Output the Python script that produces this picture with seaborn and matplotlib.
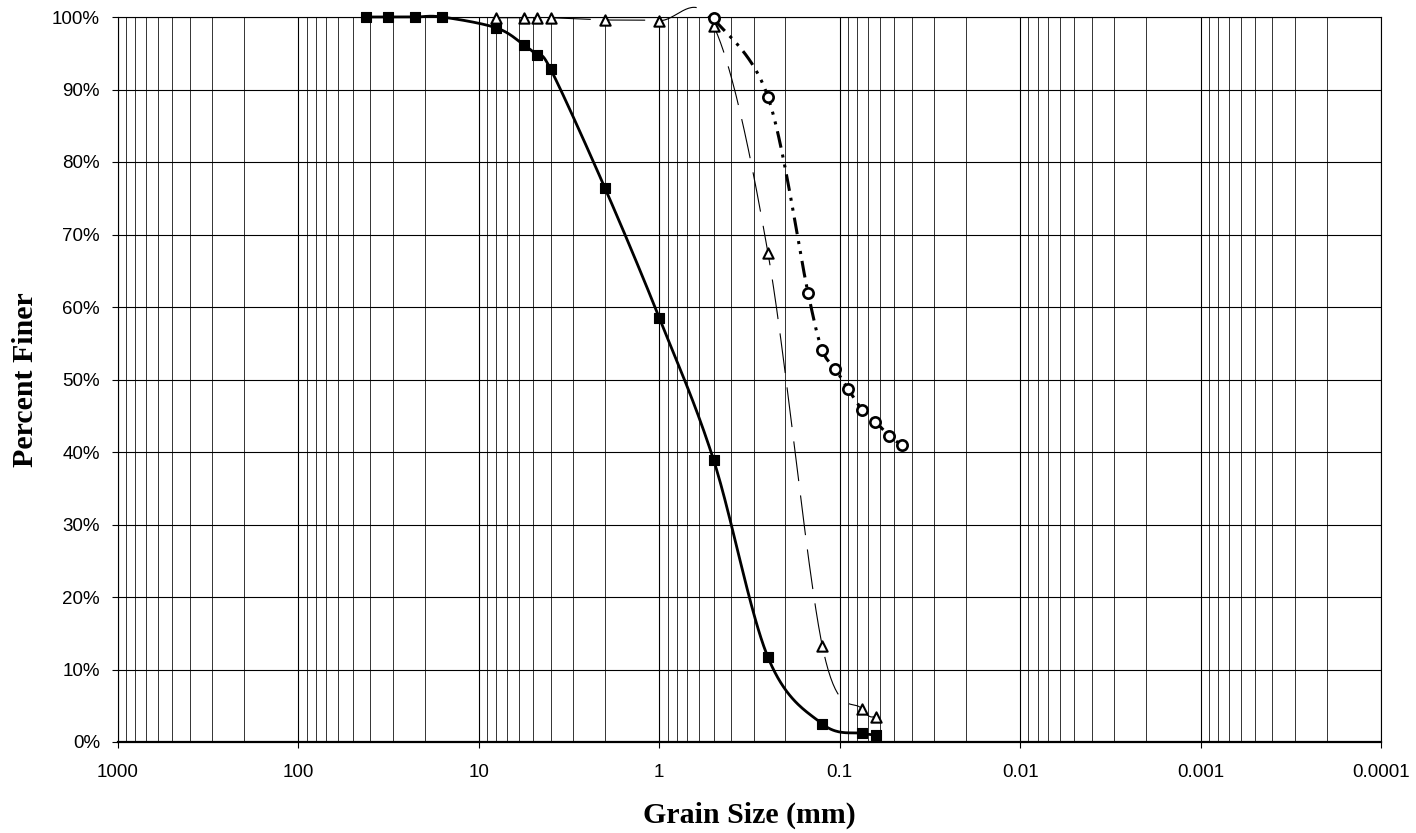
import numpy as np
import pandas as pd
import matplotlib
matplotlib.use("Agg")
import matplotlib.pyplot as plt
import matplotlib.ticker as mticker
import seaborn as sns

# ---- data ----
sq_size = [42, 32, 22.5, 16, 8, 5.6, 4.75, 4, 2, 1, 0.5, 0.25, 0.125, 0.075, 0.063]
sq_pct = [100, 100, 100, 100, 98.5, 96.1, 94.7, 92.8, 76.4, 58.5, 38.9, 11.7, 2.5, 1.2, 1.0]

tri_size = [8, 5.6, 4.75, 4, 2, 1, 0.5, 0.25, 0.125, 0.075, 0.063]
tri_pct = [99.9, 99.9, 99.9, 99.9, 99.6, 99.5, 98.8, 67.5, 13.3, 4.5, 3.5]

cir_size = [0.5, 0.25, 0.150, 0.125, 0.106, 0.090, 0.075, 0.0635, 0.053, 0.045]
cir_pct = [99.8, 89.0, 62.0, 54.1, 51.5, 48.7, 45.8, 44.2, 42.2, 40.9]

x_ticks = [1000, 100, 10, 1, 0.1, 0.01, 0.001, 0.0001]
x_labels = ["1000", "100", "10", "1", "0.1", "0.01", "0.001", "0.0001"]
y_ticks = list(range(0, 101, 10))
y_labels = [f"{v}%" for v in y_ticks]


def smooth(xs, ys, n=40):
    """Excel-like Bezier smoothing done in (log x, y) space."""
    lx = np.log10(np.asarray(xs, float))
    y = np.asarray(ys, float)
    P = np.column_stack([lx, y])
    out = []
    m = len(P)
    for i in range(m - 1):
        p0 = P[i - 1] if i > 0 else P[i]
        p1 = P[i]
        p2 = P[i + 1]
        p3 = P[i + 2] if i + 2 < m else P[i + 1]
        c1 = p1 + (p2 - p0) / 6.0
        c2 = p2 - (p3 - p1) / 6.0
        t = np.linspace(0, 1, n)[:, None]
        seg = ((1 - t) ** 3) * p1 + 3 * ((1 - t) ** 2) * t * c1 + 3 * (1 - t) * t ** 2 * c2 + t ** 3 * p2
        out.append(seg if i == 0 else seg[1:])
    S = np.vstack(out)
    return pd.DataFrame({"size": 10 ** S[:, 0], "pct": S[:, 1], "order": np.arange(len(S))})


sns.set_style("white")
plt.rcParams["font.family"] = ["Liberation Sans", "DejaVu Sans"]
plt.rcParams.update({"text.color": "black", "axes.labelcolor": "black",
                     "xtick.color": "black", "ytick.color": "black",
                     "axes.edgecolor": "black"})

fig = plt.figure(figsize=(14.16, 8.33), dpi=100)
ax = fig.add_axes([118 / 1416, 1 - 742 / 833, (1381 - 118) / 1416, (742 - 17) / 833])
ax.set_xscale("log")

# lines
sq_line = smooth(sq_size, sq_pct)
tri_line = smooth(tri_size, tri_pct)
cir_line = smooth(cir_size, cir_pct)

sns.lineplot(data=sq_line, x="size", y="pct", sort=False, estimator=None, ax=ax,
             color="black", lw=2.0, clip_on=False, zorder=3)
sns.lineplot(data=tri_line, x="size", y="pct", sort=False, estimator=None, ax=ax,
             color="black", lw=0.8, linestyle=(0, (36, 13)), clip_on=False, zorder=3)
sns.lineplot(data=cir_line, x="size", y="pct", sort=False, estimator=None, ax=ax,
             color="black", lw=2.2, linestyle=(0, (5.5, 2.3, 1, 2.3, 1, 2.3)), clip_on=False, zorder=3)

# markers
sq_df = pd.DataFrame({"size": sq_size, "pct": sq_pct})
tri_df = pd.DataFrame({"size": tri_size, "pct": tri_pct})
cir_df = pd.DataFrame({"size": cir_size, "pct": cir_pct})
sns.scatterplot(data=sq_df, x="size", y="pct", marker="s", s=60, color="black",
                edgecolor="black", linewidth=0.8, ax=ax, clip_on=False, zorder=5)
sns.scatterplot(data=tri_df, x="size", y="pct", marker="^", s=55, facecolor="white",
                edgecolor="black", linewidth=1.5, ax=ax, clip_on=False, zorder=5)
sns.scatterplot(data=cir_df, x="size", y="pct", marker="o", s=55, facecolor="white",
                edgecolor="black", linewidth=1.9, ax=ax, clip_on=False, zorder=5)

# axes
ax.set_xlim(1000, 0.0001)
ax.set_ylim(0, 100)
ax.xaxis.set_major_locator(mticker.FixedLocator(x_ticks))
ax.xaxis.set_major_formatter(mticker.FixedFormatter(x_labels))
ax.xaxis.set_minor_locator(mticker.LogLocator(base=10, subs=np.arange(2, 10), numticks=100))
ax.xaxis.set_minor_formatter(mticker.NullFormatter())
ax.yaxis.set_major_locator(mticker.FixedLocator(y_ticks))
ax.yaxis.set_major_formatter(mticker.FixedFormatter(y_labels))

ax.grid(which="major", axis="both", color="black", lw=0.8, zorder=1)
ax.grid(which="minor", axis="x", color="#333333", lw=0.7, zorder=1)
ax.set_axisbelow(True)

ax.tick_params(axis="x", which="major", direction="out", length=4, width=0.8,
               color="black", labelcolor="black", pad=12, labelsize=13.5, bottom=True)
ax.tick_params(axis="x", which="minor", length=0)
ax.tick_params(axis="y", which="major", direction="out", length=4, width=0.8,
               color="black", labelcolor="black", pad=9, labelsize=13.5, left=True)

for side, sp in ax.spines.items():
    sp.set_color("black")
    sp.set_linewidth(0.8)
    sp.set_visible(True)
ax.spines["bottom"].set_linewidth(1.6)

ax.set_xlabel("Grain Size (mm)", fontsize=21.5, fontweight="bold", color="black",
              family=["Liberation Serif", "DejaVu Serif"])
ax.set_ylabel("Percent Finer", fontsize=21.5, fontweight="bold", color="black",
              family=["Liberation Serif", "DejaVu Serif"])
ax.xaxis.set_label_coords(0.5, -(802 - 742) / 725)
ax.yaxis.set_label_coords(-(118 - 39) / 1263, 0.5)

fig.savefig("out.png", dpi=100, facecolor="white")
